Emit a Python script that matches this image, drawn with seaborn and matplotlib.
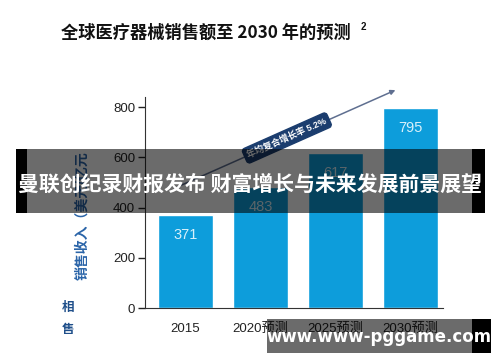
import matplotlib
matplotlib.use("Agg")
import matplotlib.pyplot as plt
import seaborn as sns
import pandas as pd

years = ["2015", "2020预测", "2025预测", "2030预测"]
sales = [371, 483, 617, 795]
yticks = [0, 200, 400, 600, 800]

sns.set_style("ticks")
plt.rcParams["font.family"] = ["Liberation Sans", "Noto Sans CJK SC", "DejaVu Sans"]

df = pd.DataFrame({"year": years, "sales": sales})

fig = plt.figure(figsize=(5, 3.62), dpi=100)
ax = fig.add_axes([0.29, 0.149, 0.596, 0.583])

sns.barplot(data=df, x="year", y="sales", color="#0d9ddb", saturation=1,
            width=0.73, ax=ax)

ax.set_xlim(-0.54, 3.43)
ax.set_ylim(0, 840)
ax.set_yticks(yticks)
ax.tick_params(axis="y", length=5, width=1, labelsize=9.5, colors="#222222", pad=2)
ax.tick_params(axis="x", length=0, labelsize=9.5, colors="#222222", pad=11)
ax.set_xlabel("")
ax.set_ylabel("")
sns.despine(ax=ax)
ax.spines["left"].set_color("#333333")
ax.spines["bottom"].set_color("#333333")

for i, v in enumerate(sales):
    ax.text(i, v - 80, str(v), ha="center", va="center", color="#d8f0fa", fontsize=10.5)

# growth arrow
ax.annotate("", xy=(2.83, 872), xytext=(-0.14, 478),
            arrowprops=dict(arrowstyle="-|>", color="#5f6f90", lw=1.1,
                            mutation_scale=7),
            annotation_clip=False)
ax.text(1.35, 677, "年均复合增长率 5.2%", rotation=24, ha="center", va="center",
        fontsize=6.5, fontweight="bold", color="white", rotation_mode="anchor",
        bbox=dict(boxstyle="round,pad=0.35", fc="#1b3d6e", ec="#1b3d6e"))

# title
fig.text(0.122, 0.91, "全球医疗器械销售额至 2030 年的预测", fontsize=12.4,
         fontweight="heavy", color="#111111", va="center", ha="left",
         family=["Noto Sans CJK SC", "DejaVu Sans"])
fig.text(0.722, 0.925, "2", fontsize=7, fontweight="bold", color="#111111",
         va="center")

# y label (blue, vertical)
fig.text(0.164, 0.405, "销售收入（美元/亿元", rotation=90, fontsize=10,
         fontweight="bold", color="#2a64a8", ha="center", va="center")
fig.text(0.135, 0.149, "相", fontsize=9, fontweight="bold", color="#1f4f8a",
         ha="center", va="center")
fig.text(0.135, 0.088, "售", fontsize=9, fontweight="bold", color="#1f4f8a",
         ha="center", va="center")

# overlay banners
fig.patches.append(plt.Rectangle((0.032, 0.412), 0.936, 0.177, transform=fig.transFigure,
                                 fc="black", alpha=0.58, ec="none", zorder=5))
fig.patches.append(plt.Rectangle((0.032, 0.412), 0.022, 0.177, transform=fig.transFigure,
                                 fc="black", ec="none", zorder=6))
fig.patches.append(plt.Rectangle((0.944, 0.412), 0.026, 0.177, transform=fig.transFigure,
                                 fc="black", ec="none", zorder=6))
fig.text(0.5, 0.49, "曼联创纪录财报发布 财富增长与未来发展前景展望", fontsize=15,
         fontweight="bold", color="white", ha="center", va="center", zorder=7,
         family=["Noto Sans CJK SC", "DejaVu Sans"])

fig.patches.append(plt.Rectangle((0.534, 0.025), 0.41, 0.094, transform=fig.transFigure,
                                 fc="black", alpha=0.58, ec="none", zorder=5))
fig.patches.append(plt.Rectangle((0.944, 0.025), 0.038, 0.094, transform=fig.transFigure,
                                 fc="black", ec="none", zorder=6))
fig.text(0.757, 0.069, "www.www-pggame.com", fontsize=12, fontweight="bold",
         color="white", ha="center", va="center", zorder=7,
         family=["DejaVu Sans"])

fig.savefig("out.png", dpi=100)
